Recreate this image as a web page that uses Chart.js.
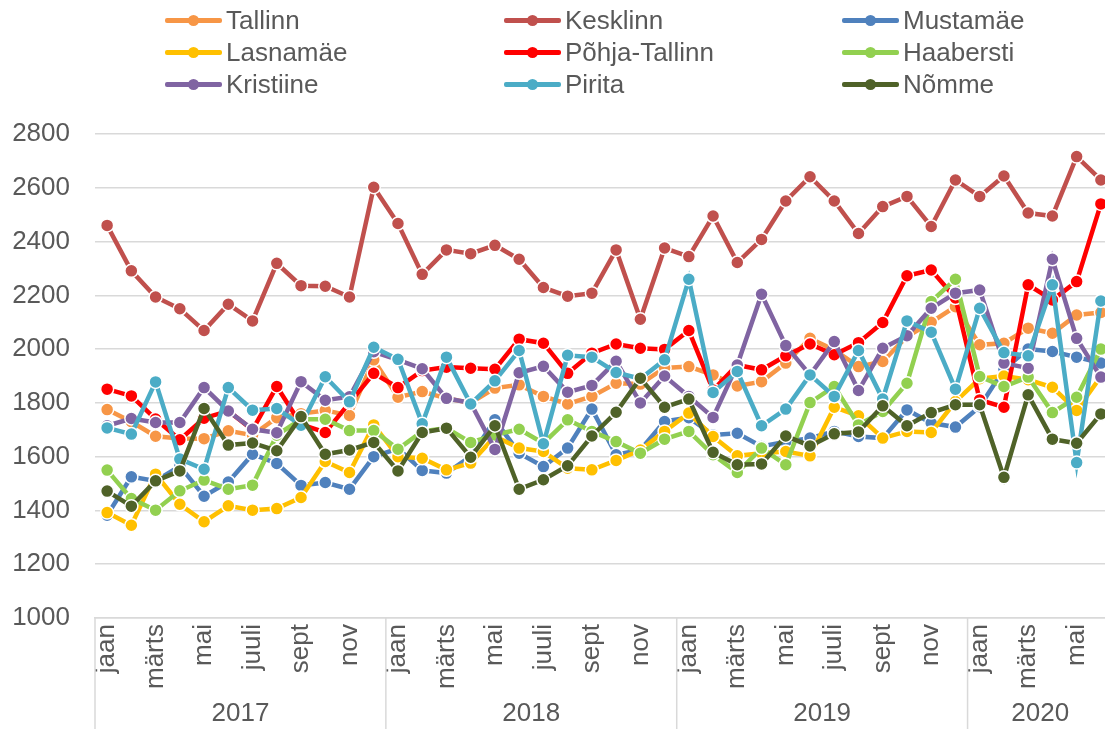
<!DOCTYPE html>
<html>
<head>
<meta charset="utf-8">
<script src="https://cdn.jsdelivr.net/npm/chart.js@4/dist/chart.umd.min.js"></script>
<style>
  html, body { margin: 0; padding: 0; background: #fff; overflow: hidden; }
  #wrap { position: relative; width: 1105px; height: 729px; overflow: hidden; }
  #chart { position: absolute; left: 0; top: 0; }
  #legend { position: absolute; left: 0; top: 0; width: 1105px; height: 110px;
            font-family: "Liberation Sans", Arial, sans-serif; font-size: 26px; color: #595959; }
  .item { position: absolute; display: flex; align-items: center; height: 32px; white-space: nowrap; }
  .mark { position: relative; width: 57px; height: 32px; margin-right: 4px; }
  .mark .ln { position: absolute; left: 0; right: 0; top: 14px; height: 5px; border-radius: 2px; }
  .mark .dot { position: absolute; left: 23px; top: 11px; width: 11px; height: 11px; border-radius: 50%; }
</style>
</head>
<body>
<div id="wrap">
  <canvas id="chart" width="1121" height="729"></canvas>
  <div id="legend"></div>
</div>
<script>
// months shown on the axis, years below them
const years = ['2017', '2018', '2019', '2020'];
const monthsInYear = [12, 12, 12, 6];
const monthNames = ['jaan', 'veebr', 'märts', 'apr', 'mai', 'juuni', 'juuli', 'aug', 'sept', 'okt', 'nov', 'dets'];

const names = ['Tallinn', 'Kesklinn', 'Mustamäe', 'Lasnamäe', 'Põhja-Tallinn', 'Haabersti', 'Kristiine', 'Pirita', 'Nõmme'];
const colors = ['#F79646', '#C0504D', '#4F81BD', '#FFC000', '#FF0000', '#92D050', '#8064A2', '#4BACC6', '#4F6228'];

const tallinn = [1775, 1730, 1676, 1668, 1667, 1696, 1680, 1745, 1760, 1772, 1753, 1960,
  1821, 1842, 1817, 1800, 1855, 1867, 1824, 1796, 1824, 1873, 1870, 1930,
  1935, 1904, 1863, 1879, 1948, 2040, 1997, 1935, 1954, 2047, 2100, 2158,
  2016, 2022, 2078, 2059, 2127, 2136];
const kesklinn = [2460, 2291, 2194, 2150, 2069, 2167, 2105, 2319, 2236, 2234, 2194, 2602,
  2467, 2278, 2369, 2355, 2386, 2334, 2229, 2197, 2208, 2369, 2111, 2376,
  2344, 2495, 2322, 2408, 2551, 2641, 2551, 2430, 2530, 2568, 2456, 2629,
  2568, 2644, 2506, 2495, 2716, 2629];
const mustamae = [1382, 1525, 1510, 1565, 1453, 1506, 1609, 1575, 1493, 1504, 1479, 1600,
  1630, 1549, 1539, 1601, 1737, 1613, 1563, 1632, 1777, 1607, 1625, 1731,
  1745, 1681, 1687, 1638, 1656, 1669, 1694, 1675, 1669, 1774, 1725, 1710,
  1786, 1925, 2000, 1991, 1970, 1948];
const lasnamae = [1392, 1345, 1535, 1423, 1358, 1417, 1401, 1407, 1448, 1582, 1541, 1718,
  1600, 1594, 1551, 1576, 1675, 1632, 1619, 1557, 1551, 1586, 1625, 1694,
  1762, 1675, 1603, 1613, 1619, 1603, 1784, 1752, 1669, 1694, 1690, 1805,
  1890, 1900, 1886, 1858, 1772, 1898];
const pohja = [1851, 1826, 1740, 1663, 1743, 1770, 1700, 1861, 1720, 1690, 1800, 1910,
  1857, 1920, 1933, 1929, 1925, 2037, 2022, 1910, 1985, 2019, 2003, 1999,
  2069, 1848, 1941, 1923, 1975, 2019, 1979, 2024, 2099, 2273, 2294, 2190,
  1811, 1784, 2239, 2183, 2251, 2540];
const haabersti = [1550, 1444, 1401, 1473, 1513, 1479, 1494, 1680, 1739, 1739, 1697, 1697,
  1628, 1694, 1706, 1653, 1681, 1702, 1650, 1737, 1694, 1656, 1613, 1665,
  1694, 1607, 1541, 1632, 1570, 1801, 1861, 1718, 1768, 1873, 2177, 2260,
  1898, 1861, 1896, 1764, 1821, 2000];
const kristiine = [1715, 1742, 1727, 1727, 1857, 1770, 1702, 1689, 1879, 1810, 1823, 1990,
  1960, 1927, 1817, 1800, 1627, 1912, 1936, 1840, 1865, 1955, 1800, 1900,
  1824, 1746, 1941, 2204, 2013, 1904, 2028, 1846, 2003, 2050, 2152, 2208,
  2220, 1948, 1929, 2334, 2040, 1896];
const pirita = [1707, 1684, 1878, 1591, 1553, 1857, 1773, 1779, 1717, 1897, 1804, 2007,
  1962, 1722, 1970, 1796, 1882, 1995, 1648, 1977, 1970, 1913, 1890, 1960,
  2260, 1839, 1917, 1715, 1777, 1904, 1824, 1995, 1814, 2105, 2063, 1851,
  2152, 1987, 1975, 2239, 1578, 2179];
const nomme = [1472, 1416, 1510, 1547, 1779, 1643, 1651, 1622, 1749, 1609, 1625, 1653,
  1547, 1690, 1706, 1598, 1715, 1479, 1514, 1566, 1677, 1765, 1892, 1784,
  1814, 1616, 1570, 1573, 1677, 1640, 1685, 1692, 1789, 1715, 1764, 1793,
  1793, 1523, 1830, 1665, 1650, 1759];

const series = [tallinn, kesklinn, mustamae, lasnamae, pohja, haabersti, kristiine, pirita, nomme];

// category labels + year positions
const labels = [];
const yearMid = [];
const yearBounds = [-0.5];
years.forEach((y, k) => {
  const start = labels.length;
  for (let m = 0; m < monthsInYear[k]; m++) labels.push(monthNames[m] + ' ' + y);
  yearMid.push(start + (monthsInYear[k] - 1) / 2);
  yearBounds.push(labels.length - 0.5);
});

const font = { family: '"Liberation Sans", Arial, sans-serif', size: 26 };
const textColor = '#595959';
const gridColor = '#D9D9D9';

const yearLines = {
  id: 'yearLines',
  afterDraw(chart) {
    const s = chart.scales.x2;
    const ctx = chart.ctx;
    ctx.save();
    ctx.strokeStyle = gridColor;
    ctx.lineWidth = 1.5;
    yearBounds.forEach(b => {
      const px = s.getPixelForValue(b);
      ctx.beginPath();
      ctx.moveTo(px, chart.chartArea.bottom);
      ctx.lineTo(px, chart.height);
      ctx.stroke();
    });
    ctx.restore();
  }
};

// no side padding from the x axes, the plot runs to the canvas edge
const noSidePad = s => { s.paddingLeft = 0; s.paddingRight = 0; };

new Chart(document.getElementById('chart'), {
  type: 'line',
  data: {
    labels: labels,
    datasets: series.map((d, i) => ({
      label: names[i],
      data: d,
      borderColor: colors[i],
      backgroundColor: colors[i],
      pointBackgroundColor: colors[i],
      pointBorderColor: '#ffffff',
      pointBorderWidth: 1.5,
      pointRadius: 6.5,
      borderWidth: 4.5,
      tension: 0,
      order: series.length - 1 - i
    }))
  },
  options: {
    responsive: false,
    animation: false,
    devicePixelRatio: 1,
    layout: { padding: { top: 134, left: 0, right: 0, bottom: 0 } },
    plugins: { legend: { display: false }, tooltip: { enabled: false } },
    scales: {
      y: {
        min: 1000,
        max: 2800,
        ticks: { stepSize: 200, padding: 25, color: textColor, font: font, callback: v => String(v) },
        grid: { color: gridColor, lineWidth: 1.5, drawTicks: false },
        border: { display: false },
        afterFit: s => { s.width = 95; }
      },
      x: {
        type: 'category',
        offset: true,
        ticks: {
          autoSkip: false,
          minRotation: 90,
          maxRotation: 90,
          padding: 6,
          color: textColor,
          font: font,
          callback: function (v, i) { return i % 2 === 0 ? monthNames[i % 12] : ''; }
        },
        grid: { display: false, drawTicks: false },
        border: { color: gridColor, width: 1.5 },
        afterFit: s => { s.height = 80; noSidePad(s); }
      },
      x2: {
        type: 'linear',
        position: 'bottom',
        min: -0.5,
        max: labels.length - 0.5,
        afterBuildTicks: s => { s.ticks = yearMid.map(v => ({ value: v })); },
        ticks: {
          autoSkip: false,
          maxRotation: 0,
          padding: 0,
          color: textColor,
          font: font,
          callback: v => years[yearMid.indexOf(v)]
        },
        grid: { display: false, drawTicks: false },
        border: { display: false },
        afterFit: s => { s.height = 31; noSidePad(s); }
      }
    }
  },
  plugins: [yearLines]
});

// legend: 3 columns x 3 rows
const colX = [165, 504, 842];
const rowY = [4, 36, 68];
const legend = document.getElementById('legend');
names.forEach((n, i) => {
  const item = document.createElement('div');
  item.className = 'item';
  item.style.left = colX[i % 3] + 'px';
  item.style.top = rowY[Math.floor(i / 3)] + 'px';
  item.innerHTML = '<span class="mark"><span class="ln" style="background:' + colors[i] +
    '"></span><span class="dot" style="background:' + colors[i] + '"></span></span><span>' + n + '</span>';
  legend.appendChild(item);
});
</script>
</body>
</html>
